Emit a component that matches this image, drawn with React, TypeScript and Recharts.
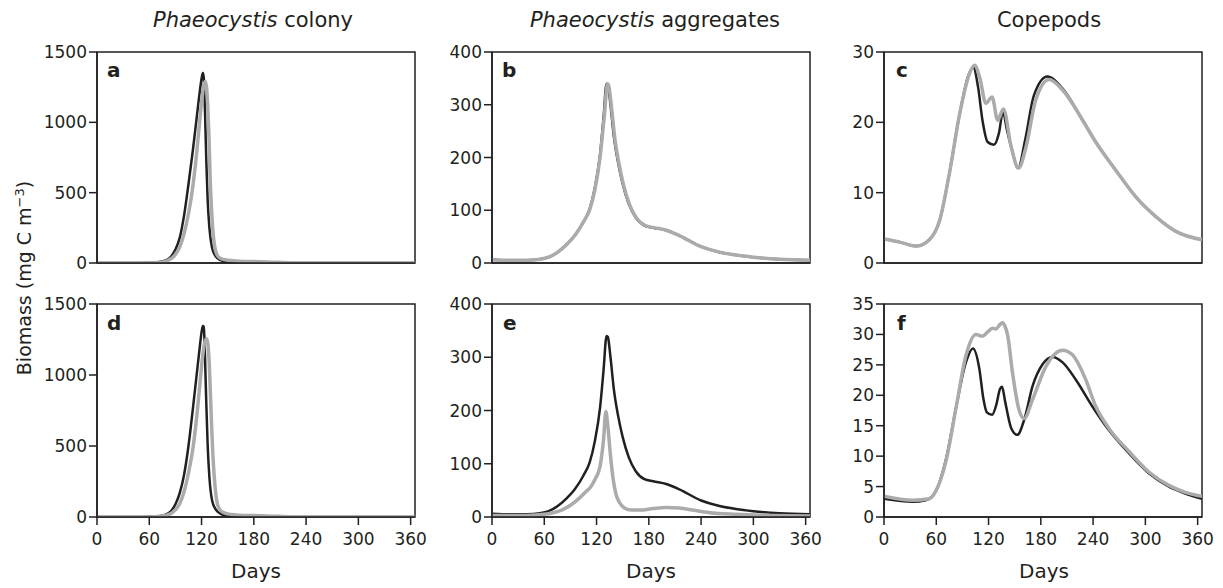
import React from "react";
import { Line, LineChart, ReferenceArea, XAxis, YAxis } from "recharts";

const FONT = "'DejaVu Sans', sans-serif";
const INK = "#231f20";
const GREY = "#ababab";

const DAY_TICKS = [0, 60, 120, 180, 240, 300, 360];
const COLONY_TICKS = [0, 500, 1000, 1500];
const AGG_TICKS = [0, 100, 200, 300, 400];
const COPE_TICKS_C = [0, 10, 20, 30];
const COPE_TICKS_F = [0, 5, 10, 15, 20, 25, 30, 35];

// a: Phaeocystis colony (top)
const colonyBlackDays = [0, 50, 60, 70, 80, 85, 90, 95, 100, 105, 110, 114, 118, 120, 121.5, 122.5, 123.5, 124.5, 125.5, 127, 129, 132, 136, 142, 150, 165, 200, 365];
const colonyBlackA = [0, 0, 1, 5, 22, 45, 95, 180, 340, 560, 800, 1010, 1220, 1310, 1350, 1320, 1180, 950, 720, 450, 250, 110, 50, 20, 7, 2, 0, 0];
const colonyGreyDays = [0, 60, 70, 80, 90, 95, 100, 105, 109, 113, 117, 120, 122, 124, 125.5, 127, 128.5, 130, 131.5, 133, 135, 138, 142, 150, 160, 180, 200, 220, 240, 365];
const colonyGreyA = [0, 0, 3, 15, 60, 115, 210, 350, 500, 700, 950, 1140, 1240, 1290, 1260, 1130, 900, 580, 380, 230, 120, 55, 32, 20, 15, 10, 6, 2, 0, 0];

// d: Phaeocystis colony (bottom)
const colonyBlackD = [0, 0, 1, 5, 20, 42, 90, 170, 300, 500, 760, 980, 1200, 1300, 1345, 1340, 1230, 1010, 790, 510, 280, 120, 55, 22, 8, 2, 0, 0];
const colonyGreyDaysD = [0, 60, 70, 80, 90, 95, 100, 105, 110, 114, 118, 121, 123, 125.5, 127, 128.5, 130, 131.5, 133, 135, 137, 140, 144, 150, 160, 180, 200, 220, 240, 365];
const colonyGreyD = [0, 0, 3, 12, 50, 95, 180, 310, 480, 680, 930, 1120, 1210, 1255, 1230, 1120, 900, 650, 440, 250, 130, 60, 35, 22, 15, 10, 6, 2, 0, 0];

// b, e: Phaeocystis aggregates
const aggBlackDays = [0, 20, 40, 55, 65, 75, 85, 95, 105, 112, 118, 124, 128, 131.5, 133, 136, 140, 145, 150, 157, 165, 175, 185, 200, 215, 240, 260, 280, 300, 330, 365];
const aggBlack = [6, 5, 5, 7, 11, 20, 34, 52, 78, 102, 142, 205, 275, 340, 338, 300, 238, 188, 150, 112, 86, 71, 67, 62, 52, 31, 21, 15, 11, 7, 5];
const aggGreyDaysB = [0, 20, 40, 55, 65, 75, 85, 95, 105, 112, 118, 124, 129, 132.5, 134, 137, 141, 146, 151, 158, 166, 176, 186, 200, 215, 240, 260, 280, 300, 330, 365];
const aggGreyB = [6, 5, 5, 7, 11, 20, 34, 52, 78, 100, 138, 200, 280, 340, 336, 298, 236, 186, 148, 110, 85, 71, 67, 62, 52, 31, 21, 15, 11, 7, 5];
const aggGreyDaysE = [0, 20, 40, 60, 70, 80, 90, 100, 108, 113, 118, 124, 128, 130.7, 133, 136, 139, 142, 146, 152, 160, 170, 185, 200, 215, 230, 250, 280, 320, 365];
const aggGreyE = [3, 3, 3, 5, 8, 13, 22, 35, 48, 56, 70, 95, 145, 198, 170, 115, 72, 45, 28, 17, 13, 13, 16, 18, 17, 13, 8, 5, 3, 2];

// c: Copepods (top)
const copeBlackDaysC = [0, 20, 37, 52, 64, 75, 87, 97, 102.5, 108, 113, 119, 126, 132, 136.5, 141, 146, 154, 162, 172, 187.5, 205, 228, 243, 266, 289, 312, 335, 365];
const copeBlackC = [3.4, 2.9, 2.4, 3.3, 6.1, 12.7, 21.3, 26.7, 27.8, 25, 20.3, 17.2, 16.8, 18.5, 21.5, 19, 16.5, 13.5, 17.5, 23.8, 26.5, 24.8, 20.3, 17.2, 13.2, 9.4, 6.6, 4.5, 3.3];
const copeGreyDaysC = [0, 20, 37, 52, 64, 75, 87, 98, 104, 110, 117, 124, 130.5, 137, 146, 154.5, 163, 174, 189.5, 205, 228, 243, 266, 289, 312, 335, 365];
const copeGreyC = [3.4, 2.9, 2.4, 3.3, 6.1, 12.7, 21.3, 26.9, 28.1, 26.3, 22.7, 23.6, 20.3, 21.9, 16.5, 13.5, 16.5, 23.1, 26.1, 24.6, 20.3, 17.2, 13.2, 9.4, 6.6, 4.5, 3.3];

// f: Copepods (bottom)
const copeBlackDaysF = [0, 33, 48, 60, 71, 83, 94, 102, 109.5, 114, 118, 124, 129, 133, 135.5, 139, 146, 153, 161, 170.5, 182, 193.5, 205, 220, 239, 258, 281, 304, 327, 345, 365];
const copeBlackF = [3.0, 2.5, 2.75, 4.4, 9.4, 18.2, 25.4, 27.7, 24.3, 19.5, 17.2, 16.8, 18.5, 21, 21.4, 19, 14.6, 13.5, 16, 21.5, 25.1, 26.3, 25.4, 22.6, 18.2, 14.3, 10.5, 7.2, 5, 3.9, 3.0];
const copeGreyDaysF = [0, 33, 52, 60, 71, 83, 94, 105.5, 113, 119, 124.5, 128.5, 133, 136, 139, 142, 147.5, 155, 161, 170.5, 186, 205, 216, 231.5, 243, 258, 281, 304, 327, 345, 365];
const copeGreyF = [3.4, 2.75, 3.0, 4.4, 9.1, 18.2, 26.5, 30.0, 29.7, 30.4, 31.0, 30.9, 31.6, 31.9, 31.3, 29.8, 23.7, 17.6, 16.2, 19.3, 24.8, 27.4, 26.7, 22.6, 18.2, 14.6, 10.8, 7.4, 5.2, 4.1, 3.4];

type Row = { day: number; black?: number; grey?: number };

function merge(bDays: number[], bVals: number[], gDays: number[], gVals: number[]): Row[] {
  const rows = new Map<number, Row>();
  bDays.forEach((d, i) => {
    const r = rows.get(d) ?? { day: d };
    r.black = bVals[i];
    rows.set(d, r);
  });
  gDays.forEach((d, i) => {
    const r = rows.get(d) ?? { day: d };
    r.grey = gVals[i];
    rows.set(d, r);
  });
  return [...rows.values()].sort((a, b) => a.day - b.day);
}

const PLOT_W = 318;
const AXIS_W = 70;
const RIGHT_PAD = 18;
const axisStyle = { stroke: INK, strokeWidth: 1.5 };
const tickStyle = { fill: INK, fontSize: 17, fontFamily: FONT };

function Panel({ x, y, h, rows, yMax, yTicks, showDays }: {
  x: number; y: number; h: number; rows: Row[]; yMax: number; yTicks: number[]; showDays: boolean;
}) {
  return (
    <div style={{ position: "absolute", left: x - AXIS_W, top: y - 10 }}>
      <LineChart width={AXIS_W + PLOT_W + RIGHT_PAD} height={10 + h + 40} data={rows}
        margin={{ top: 10, right: RIGHT_PAD, bottom: 0, left: 0 }}>
        <XAxis dataKey="day" type="number" domain={[0, 365]} ticks={DAY_TICKS} interval={0}
          tick={showDays ? tickStyle : false} tickSize={8} tickMargin={8} height={40}
          axisLine={axisStyle} tickLine={axisStyle} allowDataOverflow />
        <YAxis type="number" domain={[0, yMax]} ticks={yTicks} interval={0} width={AXIS_W}
          tick={tickStyle} tickSize={8} tickMargin={2} axisLine={axisStyle} tickLine={axisStyle}
          allowDataOverflow />
        <Line dataKey="black" type="monotone" stroke={INK} strokeWidth={2.5} dot={false}
          connectNulls isAnimationActive={false} />
        <Line dataKey="grey" type="monotone" stroke={GREY} strokeWidth={3.5} dot={false}
          connectNulls isAnimationActive={false} />
        <ReferenceArea x1={0} x2={365} y1={0} y2={yMax} fill="none" stroke={INK}
          strokeWidth={1.5} ifOverflow="visible" />
      </LineChart>
    </div>
  );
}

const COLS = [96.7, 491.7, 884.3];
const ROWS = [52, 304];

export default function App() {
  return (
    <div style={{ position: "absolute", left: 0, top: 0, width: 1223, height: 588, background: "#fff", fontFamily: FONT }}>
      <Panel x={COLS[0]} y={ROWS[0]} h={211} yMax={1500} yTicks={COLONY_TICKS} showDays={false}
        rows={merge(colonyBlackDays, colonyBlackA, colonyGreyDays, colonyGreyA)} />
      <Panel x={COLS[1]} y={ROWS[0]} h={211} yMax={400} yTicks={AGG_TICKS} showDays={false}
        rows={merge(aggBlackDays, aggBlack, aggGreyDaysB, aggGreyB)} />
      <Panel x={COLS[2]} y={ROWS[0]} h={211} yMax={30} yTicks={COPE_TICKS_C} showDays={false}
        rows={merge(copeBlackDaysC, copeBlackC, copeGreyDaysC, copeGreyC)} />
      <Panel x={COLS[0]} y={ROWS[1]} h={213} yMax={1500} yTicks={COLONY_TICKS} showDays
        rows={merge(colonyBlackDays, colonyBlackD, colonyGreyDaysD, colonyGreyD)} />
      <Panel x={COLS[1]} y={ROWS[1]} h={213} yMax={400} yTicks={AGG_TICKS} showDays
        rows={merge(aggBlackDays, aggBlack, aggGreyDaysE, aggGreyE)} />
      <Panel x={COLS[2]} y={ROWS[1]} h={213} yMax={35} yTicks={COPE_TICKS_F} showDays
        rows={merge(copeBlackDaysF, copeBlackF, copeGreyDaysF, copeGreyF)} />

      {/* titles, panel letters, axis titles */}
      <svg width={1223} height={588} style={{ position: "absolute", left: 0, top: 0, pointerEvents: "none" }}
        fontFamily={FONT} fill={INK}>
        <text x={253} y={27} fontSize={21} textAnchor="middle">
          <tspan fontStyle="italic">Phaeocystis</tspan> colony
        </text>
        <text x={655} y={27} fontSize={21} textAnchor="middle">
          <tspan fontStyle="italic">Phaeocystis</tspan> aggregates
        </text>
        <text x={1049} y={27} fontSize={21} textAnchor="middle">Copepods</text>

        {[["a", 107, 77], ["b", 502, 77], ["c", 896, 77], ["d", 107, 330], ["e", 503, 330], ["f", 897, 330]].map(
          ([l, lx, ly]) => (
            <text key={l as string} x={lx as number} y={ly as number} fontSize={20} fontWeight="bold">{l}</text>
          ))}

        {[256, 651, 1044].map((cx) => (
          <text key={cx} x={cx} y={578} fontSize={20} textAnchor="middle">Days</text>
        ))}

        <text transform="translate(31,278) rotate(-90)" fontSize={19} textAnchor="middle">
          Biomass (mg C m<tspan dy={-7} fontSize={13}>−3</tspan><tspan dy={7}>)</tspan>
        </text>
      </svg>
    </div>
  );
}
